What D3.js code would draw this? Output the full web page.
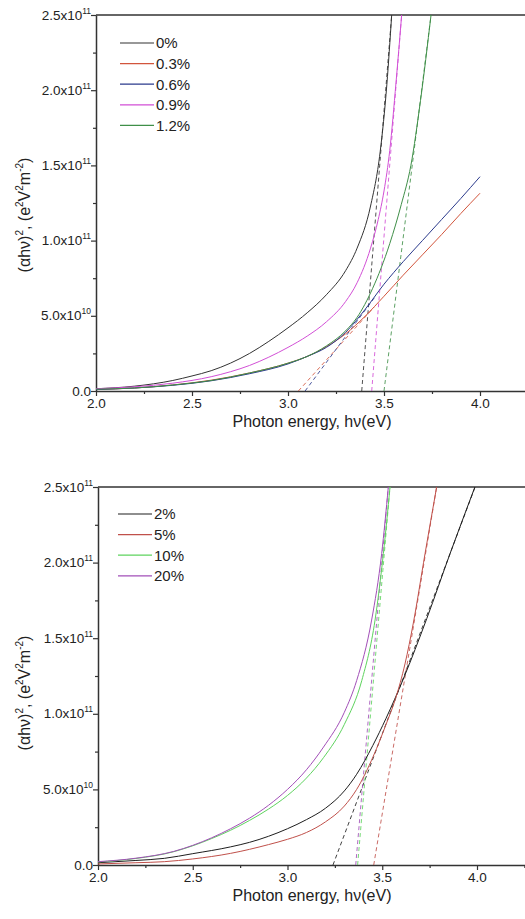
<!DOCTYPE html>
<html>
<head>
<meta charset="utf-8">
<script src="https://cdn.jsdelivr.net/npm/d3@7"></script>
<style>
  body { margin: 0; background: #fff; }
  svg { display: block; font-family: "Liberation Sans", Arial, sans-serif; }
</style>
</head>
<body>
<svg id="chart" width="525" height="919"></svg>
<script>
// Tauc plots, values in units of 1e10 e^2V^2m^-2, energies in eV

// --- top panel: 0% .. 1.2%
const topLabels = ['0%', '0.3%', '0.6%', '0.9%', '1.2%'];
const topColors = ['#333333', '#d2553c', '#2b3a8c', '#d24fd6', '#3f8f48'];

const top0 = [[2.0,0.15],[2.2,0.32],[2.4,0.7],[2.5,1.0],[2.6,1.35],[2.7,1.85],[2.8,2.5],[2.9,3.3],[3.0,4.2],
  [3.1,5.2],[3.2,6.4],[3.3,8.0],[3.36,9.5],[3.43,12.3],[3.48,15.9],[3.515,20.4],[3.54,25]];
const top03 = [[2.0,0.1],[2.2,0.2],[2.4,0.4],[2.6,0.72],[2.8,1.2],[3.0,1.85],[3.1,2.3],[3.2,2.95],
  [3.3,3.8],[3.4,4.95],[3.5,6.3],[3.6,7.7],[3.7,9.05],[3.8,10.4],[3.9,11.8],[4.0,13.15]];
const top06 = [[2.0,0.1],[2.2,0.2],[2.4,0.38],[2.6,0.68],[2.8,1.15],[3.0,1.8],[3.1,2.3],[3.2,2.9],
  [3.3,3.9],[3.4,5.4],[3.5,7.1],[3.6,8.6],[3.7,10.0],[3.8,11.4],[3.9,12.8],[4.0,14.25]];
const top09 = [[2.0,0.15],[2.2,0.28],[2.4,0.52],[2.6,0.95],[2.7,1.28],[2.8,1.7],[2.9,2.25],[3.0,2.9],
  [3.1,3.65],[3.2,4.6],[3.3,5.95],[3.36,7.2],[3.43,9.5],[3.47,11.4],[3.5,13.3],[3.53,16.0],[3.5625,20.5],[3.592,25]];
const top12 = [[2.0,0.12],[2.2,0.2],[2.4,0.4],[2.6,0.7],[2.8,1.2],[3.0,1.85],[3.1,2.3],[3.2,3.0],
  [3.3,4.0],[3.36,4.9],[3.44,6.8],[3.53,9.8],[3.59,12.4],[3.64,15.0],[3.69,19.3],[3.745,25]];
// linear fits: [intercept point, end point]
const topFits = [
  [[3.384,0],[3.54,25]],
  [[3.054,0],[3.45,5.6]],
  [[3.089,0],[3.45,6.2]],
  [[3.436,0],[3.592,25]],
  [[3.50,0],[3.745,25]]
];

// --- bottom panel: 2% .. 20%
const botLabels = ['2%', '5%', '10%', '20%'];
const botColors = ['#1e1e1e', '#c0504a', '#5ed35e', '#a24fb8'];

const bot2 = [[2.0,0.15],[2.2,0.3],[2.35,0.44],[2.5,0.75],[2.7,1.2],[2.8,1.5],[2.9,1.9],[3.0,2.4],[3.1,3.0],
  [3.2,3.75],[3.3,4.9],[3.365,6.0],[3.45,7.9],[3.52,9.7],[3.611,12.3],[3.735,16.3],[3.858,20.6],[3.989,25]];
const bot5 = [[2.0,0.07],[2.2,0.15],[2.35,0.22],[2.5,0.4],[2.7,0.77],[2.9,1.35],[3.0,1.7],[3.1,2.15],
  [3.2,2.85],[3.3,3.9],[3.365,5.0],[3.453,7.2],[3.52,9.3],[3.57,11.0],[3.62,13.3],[3.664,16.0],[3.726,20.6],[3.787,25]];
const bot10 = [[2.0,0.2],[2.2,0.43],[2.4,0.88],[2.5,1.27],[2.6,1.75],[2.7,2.3],[2.8,2.95],[2.9,3.7],
  [3.0,4.6],[3.1,5.75],[3.19,7.1],[3.3,9.3],[3.392,12.2],[3.462,16.2],[3.506,20.6],[3.541,25]];
const bot20 = [[2.0,0.22],[2.2,0.45],[2.4,0.9],[2.5,1.3],[2.6,1.8],[2.7,2.4],[2.8,3.1],[2.9,3.95],
  [3.0,5.0],[3.1,6.3],[3.19,7.8],[3.3,10.1],[3.365,12.2],[3.444,16.2],[3.497,20.6],[3.532,25]];
const botFits = [
  [[3.24,0],[3.99,25]],
  [[3.455,0],[3.787,25]],
  [[3.37,0],[3.541,25]],
  [[3.36,0],[3.532,25]]
];

// axis ticks
const xTicks = [2.0, 2.5, 3.0, 3.5, 4.0];
const xMinor = [2.25, 2.75, 3.25, 3.75, 4.25];
const yTicks = [0, 5, 10, 15, 20, 25];
const yMinor = [2.5, 7.5, 12.5, 17.5, 22.5];
const yTickMantissa = ['0.0', '5.0', '1.0', '1.5', '2.0', '2.5'];
const yTickExp = ['', '10', '11', '11', '11', '11'];

const svg = d3.select('#chart');
const axisColor = '#333';

function drawPanel(p) {
    const x = d3.scaleLinear().domain([2.0, 4.3]).range([p.left, p.left + 2.3 * p.pxPerEv]);
    const y = d3.scaleLinear().domain([0, 25]).range([p.bottom, p.top]);
    const g = svg.append('g');

    const clipId = 'clip' + p.id;
    g.append('clipPath').attr('id', clipId)
        .append('rect')
        .attr('x', p.left).attr('y', p.top - 1)
        .attr('width', 600).attr('height', p.bottom - p.top + 1);

    // frame: top line
    g.append('line')
        .attr('x1', p.left).attr('x2', 530)
        .attr('y1', p.top).attr('y2', p.top)
        .attr('stroke', axisColor).attr('stroke-width', 1.5);

    // x axis
    const xAxis = g.append('g')
        .attr('transform', `translate(0,${p.bottom})`)
        .call(d3.axisBottom(x).tickValues(xTicks).tickSize(5).tickSizeOuter(0)
            .tickFormat(d3.format('.1f')));
    g.append('g')
        .attr('transform', `translate(0,${p.bottom})`)
        .call(d3.axisBottom(x).tickValues(xMinor).tickSize(3).tickSizeOuter(0).tickFormat(''))
        .call(s => s.select('.domain').remove());

    // y axis
    g.append('g')
        .attr('transform', `translate(${p.left},0)`)
        .call(d3.axisLeft(y).tickValues(yTicks).tickSize(5).tickSizeOuter(0).tickFormat(''));
    g.append('g')
        .attr('transform', `translate(${p.left},0)`)
        .call(d3.axisLeft(y).tickValues(yMinor).tickSize(3).tickSizeOuter(0).tickFormat(''))
        .call(s => s.select('.domain').remove());

    g.selectAll('.domain').attr('stroke', axisColor).attr('stroke-width', 1.5);
    g.selectAll('.tick line').attr('stroke', axisColor).attr('stroke-width', 1.2);

    xAxis.selectAll('text')
        .attr('font-size', 13.5)
        .attr('font-family', '"Liberation Sans", Arial, sans-serif')
        .attr('fill', '#222')
        .attr('dy', '0.66em');

    // y tick labels with superscript exponents
    yTicks.forEach((v, i) => {
        const t = g.append('text')
            .attr('x', p.left - 5)
            .attr('y', y(v) + 4.5)
            .attr('text-anchor', 'end')
            .attr('font-size', 13.5)
            .attr('fill', '#222');
        if (yTickExp[i]) {
            t.append('tspan').text(yTickMantissa[i] + 'x10');
            t.append('tspan').attr('dy', -6).attr('font-size', 8.5).text(yTickExp[i]);
        } else {
            t.text(yTickMantissa[i]);
        }
    });

    // axis titles
    g.append('text')
        .attr('x', 312).attr('y', p.bottom + 36)
        .attr('text-anchor', 'middle')
        .attr('font-size', 16)
        .attr('fill', '#222')
        .text('Photon energy, h\u03bd(eV)');

    const yl = g.append('text')
        .attr('transform', `translate(30,${(p.top + p.bottom) / 2 + p.ylabShift}) rotate(-90)`)
        .attr('text-anchor', 'middle')
        .attr('font-size', 16)
        .attr('fill', '#222');
    yl.append('tspan').text('(\u03b1h\u03bd)');
    yl.append('tspan').attr('dy', -7).attr('font-size', 10).text('2');
    yl.append('tspan').attr('dy', 7).text(', (e');
    yl.append('tspan').attr('dy', -7).attr('font-size', 10).text('2');
    yl.append('tspan').attr('dy', 7).text('V');
    yl.append('tspan').attr('dy', -7).attr('font-size', 10).text('2');
    yl.append('tspan').attr('dy', 7).text('m');
    yl.append('tspan').attr('dy', -7).attr('font-size', 10).text('-2');
    yl.append('tspan').attr('dy', 7).text(')');

    // curves
    const line = d3.line()
        .x(d => x(d[0]))
        .y(d => y(d[1]))
        .curve(d3.curveMonotoneX);

    const plot = g.append('g').attr('clip-path', `url(#${clipId})`);

    p.fits.forEach((f, i) => {
        plot.append('path')
            .attr('d', d3.line().x(d => x(d[0])).y(d => y(d[1]))(f))
            .attr('fill', 'none')
            .attr('stroke', p.colors[i])
            .attr('stroke-width', 1)
            .attr('stroke-dasharray', '4,3')
            .attr('opacity', 0.85);
    });

    p.series.forEach((s, i) => {
        plot.append('path')
            .attr('d', line(s))
            .attr('fill', 'none')
            .attr('stroke', p.colors[i])
            .attr('stroke-width', 1);
    });

    // legend
    const legend = g.append('g');
    p.labels.forEach((lab, i) => {
        const ly = p.legendY + i * 20.6;
        legend.append('line')
            .attr('x1', p.legendX).attr('x2', p.legendX + 34)
            .attr('y1', ly).attr('y2', ly)
            .attr('stroke', p.colors[i]).attr('stroke-width', 1.2);
        legend.append('text')
            .attr('x', p.legendX + 36).attr('y', ly)
            .attr('dy', '0.36em')
            .attr('font-size', 15)
            .attr('fill', '#222')
            .text(lab);
    });
}

drawPanel({
    id: 'top', top: 15, bottom: 391, left: 96, pxPerEv: 192,
    series: [top0, top03, top06, top09, top12],
    fits: topFits, colors: topColors, labels: topLabels,
    legendX: 120, legendY: 43, ylabShift: 12
});

drawPanel({
    id: 'bot', top: 487, bottom: 865, left: 98, pxPerEv: 189.5,
    series: [bot2, bot5, bot10, bot20],
    fits: botFits, colors: botColors, labels: botLabels,
    legendX: 118, legendY: 514, ylabShift: 17
});
</script>
</body>
</html>
